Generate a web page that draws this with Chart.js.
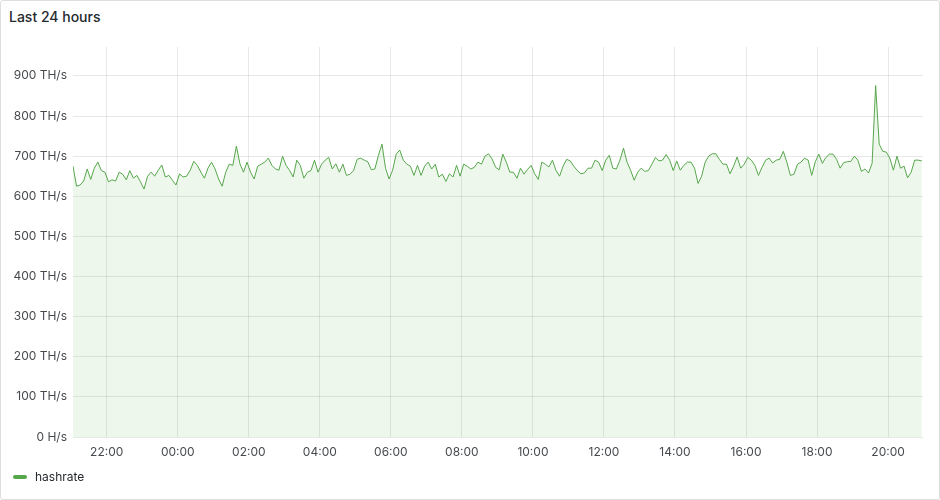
<!DOCTYPE html>
<html>
<head>
<meta charset="utf-8">
<title>Last 24 hours</title>
<script src="https://cdn.jsdelivr.net/npm/chart.js"></script>
<style>
    html, body { margin: 0; padding: 0; background: #fff; }
    body { width: 940px; height: 500px; position: relative; overflow: hidden; font-family: Inter, "Noto Sans", sans-serif; }
    .panel { position: absolute; left: 0; top: 0; width: 938px; height: 498px; border: 1px solid #dcdee1; border-radius: 3px; }
    .panel-title { position: absolute; left: 9px; top: 8px; font-size: 14px; line-height: 17px; font-weight: 500; color: #24292e; }
    .legend { position: absolute; left: 13px; top: 469px; font-size: 12px; line-height: 16px; color: #24292e; display: flex; align-items: center; }
    .legend i { display: inline-block; width: 14px; height: 4px; border-radius: 2px; background: #56a64b; margin-right: 8px; }
    #chart { position: absolute; left: 0; top: 0; }
</style>
</head>
<body>
<div class="panel"></div>
<div class="panel-title">Last 24 hours</div>
<canvas id="chart" width="940" height="500"></canvas>
<div class="legend"><i></i>hashrate</div>

<script>
// ===== DATA =====
// samples every 6 minutes, first one at 21:03 the day before
const startTime = '21:03';
const stepMinutes = 6;
const tickLabels = ['22:00', '00:00', '02:00', '04:00', '06:00', '08:00', '10:00', '12:00', '14:00', '16:00', '18:00', '20:00'];
const yTickValues = [0, 100, 200, 300, 400, 500, 600, 700, 800, 900];

// hashrate in TH/s
const hashrate = [
    // 21:03 - 00:51
    675, 625, 628, 638, 668, 642, 670, 685, 664, 660, 636, 641, 638, 660, 655, 641, 664, 645, 652, 636,
    618, 650, 660, 650, 665, 678, 648, 652, 640, 628, 656, 648, 650, 665, 687, 677, 660, 645, 670,
    // 00:57 - 04:45
    685, 668, 643, 625, 660, 680, 677, 725, 681, 660, 685, 660, 643, 675, 680, 685, 695, 677, 668, 665,
    700, 677, 664, 648, 690, 677, 645, 660, 664, 690, 660, 680, 690, 697, 668, 681, 660, 680, 652,
    // 04:51 - 08:39
    655, 664, 692, 695, 690, 686, 666, 668, 702, 730, 670, 643, 665, 705, 715, 690, 680, 675, 652, 677,
    652, 675, 685, 668, 680, 648, 655, 637, 656, 648, 677, 650, 680, 675, 668, 672, 685, 680, 700,
    // 08:45 - 12:33
    706, 693, 672, 666, 705, 685, 660, 660, 645, 670, 655, 667, 677, 656, 642, 685, 680, 673, 690, 664,
    650, 675, 692, 688, 675, 664, 656, 658, 670, 670, 690, 685, 664, 690, 702, 670, 668, 690, 720,
    // 12:39 - 16:27
    685, 665, 640, 660, 670, 662, 664, 680, 697, 688, 690, 704, 690, 664, 688, 665, 677, 685, 685, 670,
    632, 650, 685, 700, 706, 706, 692, 680, 680, 656, 675, 698, 670, 680, 697, 690, 677, 652, 672,
    // 16:33 - 20:57
    690, 695, 683, 690, 692, 712, 685, 652, 655, 680, 685, 695, 690, 652, 686, 705, 682, 697, 705, 705,
    692, 670, 684, 686, 687, 700, 690, 662, 668, 658, 682, 876, 730, 712, 710, 695, 665, 700, 670, 675,
    646, 660, 690, 690, 688
];

// ===== HELPERS =====
// minutes relative to midnight; times after 21:00 belong to the day before
function toMinutes(label) {
    const [h, m] = label.split(':').map(Number);
    let mins = h * 60 + m;
    if (mins >= 21 * 60) mins -= 1440;
    return mins;
}

function formatTime(mins) {
    const total = ((mins % 1440) + 1440) % 1440;
    const h = Math.floor(total / 60);
    const m = total % 60;
    return String(h).padStart(2, '0') + ':' + String(m).padStart(2, '0');
}

function formatHash(value) {
    return value === 0 ? '0 H/s' : value + ' TH/s';
}

const startMinute = toMinutes(startTime);
const points = hashrate.map((v, i) => ({ x: startMinute + i * stepMinutes, y: v }));
const tickMinutes = tickLabels.map(toMinutes);

const textColor = 'rgba(36, 41, 46, 0.85)';
const gridColor = 'rgba(36, 41, 46, 0.11)';
const tickFont = { family: 'Inter', size: 12 };

// ===== CHART =====
const ctx = document.getElementById('chart').getContext('2d');

new Chart(ctx, {
    type: 'line',
    data: {
        datasets: [
            {
                label: 'hashrate',
                data: points,
                borderColor: '#56a64b',
                backgroundColor: 'rgba(115, 191, 105, 0.13)',
                borderWidth: 1,
                pointRadius: 0,
                tension: 0,
                fill: 'origin'
            }
        ]
    },
    options: {
        responsive: false,
        animation: false,
        layout: {
            padding: { left: 0, right: 17, top: 47, bottom: 33 }
        },
        plugins: {
            legend: { display: false },
            tooltip: { enabled: false }
        },
        scales: {
            x: {
                type: 'linear',
                min: startMinute,
                max: 1259,
                afterBuildTicks: (scale) => {
                    scale.ticks = tickMinutes.map(v => ({ value: v }));
                },
                afterFit: (scale) => { scale.height = 30; },
                grid: { color: gridColor, drawTicks: false },
                border: { display: false },
                ticks: {
                    color: textColor,
                    font: tickFont,
                    padding: 8,
                    maxRotation: 0,
                    autoSkip: false,
                    callback: (value) => formatTime(value)
                }
            },
            y: {
                min: 0,
                max: 972,
                afterBuildTicks: (scale) => {
                    scale.ticks = yTickValues.map(v => ({ value: v }));
                },
                afterFit: (scale) => { scale.width = 73; },
                grid: { color: gridColor, drawTicks: false },
                border: { display: false },
                ticks: {
                    color: textColor,
                    font: tickFont,
                    padding: 6,
                    callback: (value) => formatHash(value)
                }
            }
        }
    }
});
</script>
</body>
</html>
